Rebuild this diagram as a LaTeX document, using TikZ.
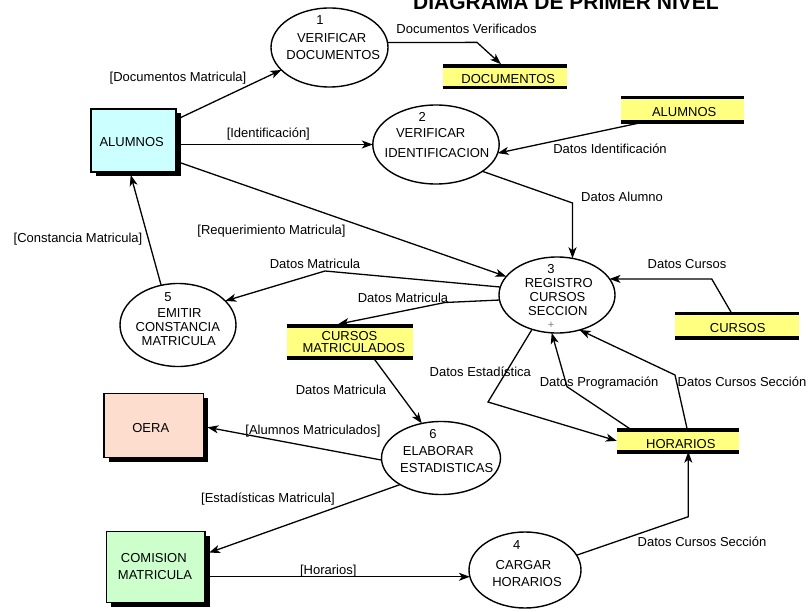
\documentclass[tikz,border=0pt]{standalone}
\usepackage{fontspec}
\setmainfont{Liberation Sans}
\usetikzlibrary{arrows.meta,shadows,shapes.geometric}
\definecolor{storey}{RGB}{255,255,128}
\definecolor{cyanfill}{RGB}{204,255,255}
\definecolor{peach}{RGB}{253,222,206}
\definecolor{mint}{RGB}{204,255,204}
\begin{document}
\begin{tikzpicture}[x=1pt,y=-1pt,
  every node/.style={inner sep=0pt, outer sep=0pt},
  txt/.style={font=\fontsize{13}{15}\selectfont, text height=9.4pt, text depth=0pt, anchor=center},
  proc/.style={ellipse, draw, line width=1.4pt, fill=white},
  ent/.style={rectangle, draw, line width=1.3pt, general shadow={fill=black, shadow xshift=4.5pt, shadow yshift=-4.5pt}},
  bar/.style={draw=black, line width=3.6pt},
  store/.style={fill=storey, append after command={(\tikzlastnode.north west) edge[bar] (\tikzlastnode.north east) (\tikzlastnode.south west) edge[bar] (\tikzlastnode.south east)}},
  flow/.style={draw, line width=1.3pt, -{Stealth[length=11pt,width=8pt,inset=3pt]}},
  ]
\fill[white] (0,0) rectangle (810,612);
\useasboundingbox (0,0) rectangle (810,612);

% title
\node[font=\fontsize{21}{25}\selectfont\bfseries, anchor=base] (title) at (566,9.5) {DIAGRAMA DE PRIMER NIVEL};

% processes
\node[proc, minimum width=117pt, minimum height=79pt] (e1) at (329.5,47.5) {};
\node[proc, minimum width=126.4pt, minimum height=79pt] (e2) at (436,144.5) {};
\node[proc, minimum width=116pt, minimum height=76pt] (e3) at (557,295) {};
\node[proc, minimum width=112pt, minimum height=76pt] (e4) at (525,570) {};
\node[proc, minimum width=116pt, minimum height=83pt] (e5) at (178,325) {};
\node[proc, minimum width=119pt, minimum height=73pt] (e6) at (441,458) {};

% entities
\node[ent, fill=cyanfill, minimum width=85pt, minimum height=63pt] (al) at (133.5,140.5) {};
\node[ent, fill=peach, minimum width=99.3pt, minimum height=64pt] (oe) at (153.7,425.3) {};
\node[ent, fill=mint, minimum width=98.3pt, minimum height=71pt] (com) at (155.85,567.2) {};

% stores
\node[store, minimum width=124pt, minimum height=21.5pt] (docs) at (504.7,76.75) {};
\node[store, minimum width=123pt, minimum height=24.1pt] (as) at (682.5,109.75) {};
\node[store, minimum width=124pt, minimum height=24.7pt] (cu) at (737,325.7) {};
\node[store, minimum width=122.3pt, minimum height=21.7pt] (hor) at (677.9,440.85) {};
\node[store, minimum width=125.4pt, minimum height=31.7pt] (cm) at (350,341.85) {};

% texts in processes
\node[txt] (t1a) at (320,20) {1};
\node[txt] (t1b) at (331.7,37.5) {VERIFICAR};
\node[txt] (t1c) at (333.3,55) {DOCUMENTOS};
\node[txt] (t2a) at (422.3,117.3) {2};
\node[txt] (t2b) at (430.7,133.3) {VERIFICAR};
\node[txt] (t2c) at (437,152.7) {IDENTIFICACION};
\node[txt] (t3a) at (551,269) {3};
\node[txt] (t3b) at (558.7,283) {REGISTRO};
\node[txt] (t3c) at (557.5,297) {CURSOS};
\node[txt] (t3d) at (557.8,311) {SECCION};
\node[txt, text=gray, font=\fontsize{11}{13}\selectfont] (t3e) at (551,323.5) {+};
\node[txt] (t4a) at (516.7,545) {4};
\node[txt] (t4b) at (523.5,565) {CARGAR};
\node[txt] (t4c) at (527,582) {HORARIOS};
\node[txt] (t5a) at (168,297) {5};
\node[txt] (t5b) at (179.5,313) {EMITIR};
\node[txt] (t5c) at (177.8,327) {CONSTANCIA};
\node[txt] (t5d) at (178.8,341) {MATRICULA};
\node[txt] (t6a) at (433,433.3) {6};
\node[txt] (t6b) at (438.3,450.5) {ELABORAR};
\node[txt] (t6c) at (446.7,467.3) {ESTADISTICAS};

% texts in entities and stores
\node[txt] (tal) at (131.7,141.7) {ALUMNOS};
\node[txt] (toe) at (150.8,427.3) {OERA};
\node[txt] (tco1) at (153.8,557.3) {COMISION};
\node[txt] (tco2) at (155,575) {MATRICULA};
\node[txt] (tdocs) at (508.3,79.3) {DOCUMENTOS};
\node[txt] (tas) at (684.2,111.7) {ALUMNOS};
\node[txt] (tcu) at (737.7,327.3) {CURSOS};
\node[txt] (thor) at (680.8,443.3) {HORARIOS};
\node[txt] (tcm1) at (349.5,335.5) {CURSOS};
\node[txt] (tcm2) at (353.8,347.3) {MATRICULADOS};

% bends
\coordinate (b2) at (477,42.4);
\coordinate (b5) at (572.5,203);
\coordinate (b7) at (325,271);
\coordinate (b8) at (445,302.5);
\coordinate (b9) at (488,402);
\coordinate (b10) at (567,386.7);
\coordinate (b11) at (675,375);
\coordinate (b12) at (711.7,278.9);
\coordinate (b17) at (688.3,516.7);
\coordinate (c16) at (com.east |- e4.187);

% flows
\draw[flow] (al.26) -- (e1.205);
\draw[flow] (e1.5) -- (b2) -- ([xshift=-3.7pt,yshift=1.8pt]docs.north);
\draw[flow] (al.east |- e2.west) -- (e2.west);
\draw[flow] ([xshift=-37.5pt]as.south) -- (e2.-8);
\draw[flow] (e2.-30) -- (b5) -- (b5 |- e3.68);
\draw[flow] (al.-26) -- (e3.160);
\draw[flow] (e3.172) -- (b7) -- (e5.27);
\draw[flow] (e3.185) -- (b8) -- ([xshift=-12pt,yshift=1.8pt]cm.north);
\draw[flow] (e3.234) -- (b9) -- (hor.west);
\draw[flow] ([xshift=15pt]hor.north west) -- (b10) -- (e3.262);
\draw[flow] ([xshift=70.6pt]hor.north west) -- (b11) -- (e3.-57);
\draw[flow] ([xshift=-5.3pt]cu.north) -- (b12) -- (e3.17);
\draw[flow] ([xshift=23.3pt]cm.south) -- (e6.119);
\draw[flow] (e6.182) -- ([xshift=4pt,yshift=-2pt]oe.east);
\draw[flow] (e6.213) -- ([xshift=4pt,yshift=14.5pt]com.east);
\draw[flow] (c16) -- (e4.187);
\draw[flow] (e4.16) -- (b17) -- (b17 |- hor.south);
\draw[flow] (e5.113) -- ([xshift=-2.8pt,yshift=-3pt]al.south);

% flow labels
\node[txt] (l1) at (178,77.3) {[Documentos Matricula]};
\node[txt] (l2) at (466.5,29.3) {Documentos Verificados};
\node[txt] (l3) at (268.3,133.3) {[Identificación]};
\node[txt] (l4) at (610,149.3) {Datos Identificación};
\node[txt] (l5) at (622,197.3) {Datos Alumno};
\node[txt] (l6) at (271.5,229.3) {[Requerimiento Matricula]};
\node[txt] (l7) at (315,263.3) {Datos Matricula};
\node[txt] (l8) at (403,297.3) {Datos Matricula};
\node[txt] (l9) at (480.3,371.7) {Datos Estadística};
\node[txt] (l10) at (599,381.7) {Datos Programación};
\node[txt] (l11) at (742,381.7) {Datos Cursos Sección};
\node[txt] (l12) at (687,263.3) {Datos Cursos};
\node[txt] (l13) at (341,389.3) {Datos Matricula};
\node[txt] (l14) at (313,429.3) {[Alumnos Matriculados]};
\node[txt] (l15) at (268,497.3) {[Estadísticas Matricula]};
\node[txt] (l16) at (328.3,570) {[Horarios]};
\node[txt] (l17) at (702,541.7) {Datos Cursos Sección};
\node[txt] (l18) at (78,237.3) {[Constancia Matricula]};
\end{tikzpicture}
\end{document}
